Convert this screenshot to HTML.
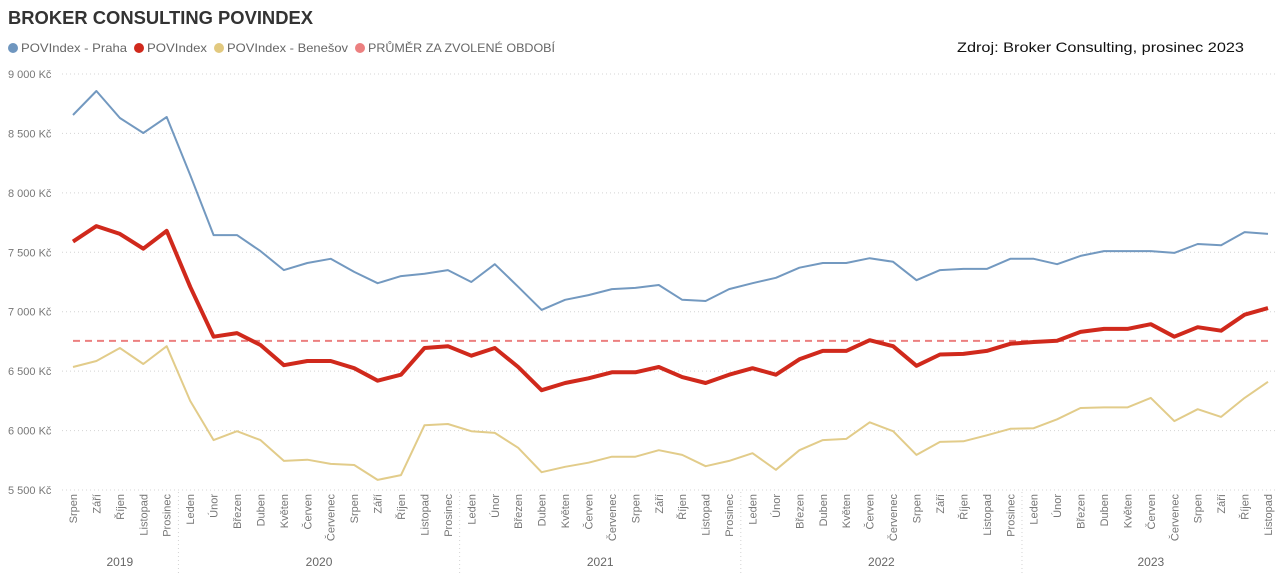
<!DOCTYPE html>
<html><head><meta charset="utf-8">
<style>
body{margin:0;background:#fff;width:1288px;height:586px;overflow:hidden;font-family:"Liberation Sans",sans-serif;}
svg{display:block}
</style></head>
<body>
<svg id="chart" width="1288" height="586">
  <text x="8" y="24" font-size="18" font-weight="bold" fill="#333" textLength="305" lengthAdjust="spacingAndGlyphs">BROKER CONSULTING POVINDEX</text>
  <g font-size="12" fill="#666">
    <g><circle cx="13" cy="48" r="5" fill="#6f96bf"/><text x="21" y="52" textLength="106" lengthAdjust="spacingAndGlyphs">POVIndex - Praha</text></g>
    <g><circle cx="139" cy="48" r="5" fill="#d0291c"/><text x="147" y="52" textLength="60" lengthAdjust="spacingAndGlyphs">POVIndex</text></g>
    <g><circle cx="219" cy="48" r="5" fill="#e2c97f"/><text x="227" y="52" textLength="121" lengthAdjust="spacingAndGlyphs">POVIndex - Benešov</text></g>
    <g><circle cx="360" cy="48" r="5" fill="#ec8080"/><text x="368" y="52" textLength="187" lengthAdjust="spacingAndGlyphs">PRŮMĚR ZA ZVOLENÉ OBDOBÍ</text></g>
  </g>
  <text x="957" y="52" font-size="14" fill="#111" textLength="287" lengthAdjust="spacingAndGlyphs">Zdroj: Broker Consulting, prosinec 2023</text>
  <g id="grid"></g>
  <g id="xaxis"></g>
  <g id="series"></g>
</svg>
<script>
const months = ["Srpen","Září","Říjen","Listopad","Prosinec",
 "Leden","Únor","Březen","Duben","Květen","Červen","Červenec","Srpen","Září","Říjen","Listopad","Prosinec",
 "Leden","Únor","Březen","Duben","Květen","Červen","Červenec","Srpen","Září","Říjen","Listopad","Prosinec",
 "Leden","Únor","Březen","Duben","Květen","Červen","Červenec","Srpen","Září","Říjen","Listopad","Prosinec",
 "Leden","Únor","Březen","Duben","Květen","Červen","Červenec","Srpen","Září","Říjen","Listopad"];
const years = ["2019","2020","2021","2022","2023"];
const yearCounts = [5,12,12,12,11];
const praha = [8655,8857,8630,8504,8638, 8150,7645,7645,7510,7350,7410,7445,7335,7240,7300,7320,7350,
 7250,7400,7210,7015,7100,7140,7190,7200,7225,7100,7090,7190,
 7240,7285,7370,7410,7410,7450,7420,7265,7350,7360,7360,7445,
 7445,7400,7470,7510,7510,7510,7495,7570,7560,7670,7655];
const povindex = [7590,7720,7655,7530,7680, 7210,6790,6820,6720,6550,6585,6585,6525,6420,6470,6695,6710,
 6630,6695,6535,6340,6400,6440,6490,6490,6535,6450,6400,6470,
 6525,6470,6600,6670,6670,6760,6710,6545,6640,6645,6670,6730,
 6745,6755,6830,6855,6855,6895,6790,6870,6840,6975,7030];
const benesov = [6535,6585,6695,6560,6710, 6250,5920,5995,5920,5745,5755,5720,5710,5585,5625,6045,6055,
 5995,5980,5855,5650,5695,5730,5780,5780,5835,5795,5700,5745,
 5810,5670,5835,5920,5930,6070,5995,5795,5905,5910,5960,6015,
 6020,6095,6190,6195,6195,6275,6080,6180,6115,6275,6410];
const average = [6755];
const yTicks = [9000,8500,8000,7500,7000,6500,6000,5500];
const yTickLabels = ["9 000 Kč","8 500 Kč","8 000 Kč","7 500 Kč","7 000 Kč","6 500 Kč","6 000 Kč","5 500 Kč"];

const NS = "http://www.w3.org/2000/svg";
const X0 = 73, X1 = 1268, Y0 = 74, Y1 = 490, VMAX = 9000, VMIN = 5500;
const step = (X1 - X0) / (months.length - 1);
function xs(i){ return X0 + i * step; }
function ys(v){ return Y0 + (VMAX - v) / (VMAX - VMIN) * (Y1 - Y0); }
function mk(tag, attrs, parent){ const e = document.createElementNS(NS, tag); for (const k in attrs) e.setAttribute(k, attrs[k]); parent.appendChild(e); return e; }

const grid = document.getElementById('grid');
yTicks.forEach((v, i) => {
  const l = mk('line', {x1: 62, x2: 1275, y1: ys(v), y2: ys(v), stroke: '#d4d4d4', 'stroke-width': 1, 'stroke-dasharray': '1 3'}, grid);
  
  
  const t = mk('text', {x: 8, y: ys(v) + 4, 'font-size': 11, fill: '#777'}, grid);
  t.textContent = yTickLabels[i];
  
  
});

const xa = document.getElementById('xaxis');
months.forEach((m, i) => {
  const t = mk('text', {x: 0, y: 0, 'font-size': 11, fill: '#777', 'text-anchor': 'end', transform: `translate(${xs(i) + 4},${494}) rotate(-90)`}, xa);
  t.textContent = m;
  
  
});
let start = 0;
years.forEach((y, k) => {
  const n = yearCounts[k];
  const left = xs(start) - step / 2, right = xs(start + n - 1) + step / 2;
  if (k > 0) {
    const s = mk('line', {x1: left, x2: left, y1: 492, y2: 575, stroke: '#d4d4d4', 'stroke-dasharray': '1 3'}, xa);
    
    
  }
  const t = mk('text', {x: (left + right) / 2, y: 566, 'font-size': 12, fill: '#666', 'text-anchor': 'middle'}, xa);
  t.textContent = y;
  
  
  start += n;
});

const sg = document.getElementById('series');
const avg = mk('line', {x1: X0, x2: X1, y1: ys(average[0]), y2: ys(average[0]), stroke: '#ec8080', 'stroke-width': 2, 'stroke-dasharray': '7 5'}, sg);


function line(data, color, w, name){
  const p = mk('polyline', {points: data.map((v, i) => xs(i).toFixed(1) + ',' + ys(v).toFixed(1)).join(' '), fill: 'none', stroke: color, 'stroke-width': w, 'stroke-linejoin': 'round'}, sg);
  
  
}
line(praha, '#7399c0', 2, 'praha-line');
line(benesov, '#e2cc8a', 2, 'benesov-line');
line(povindex, '#d0291c', 4, 'povindex-line');
</script>
</body></html>
